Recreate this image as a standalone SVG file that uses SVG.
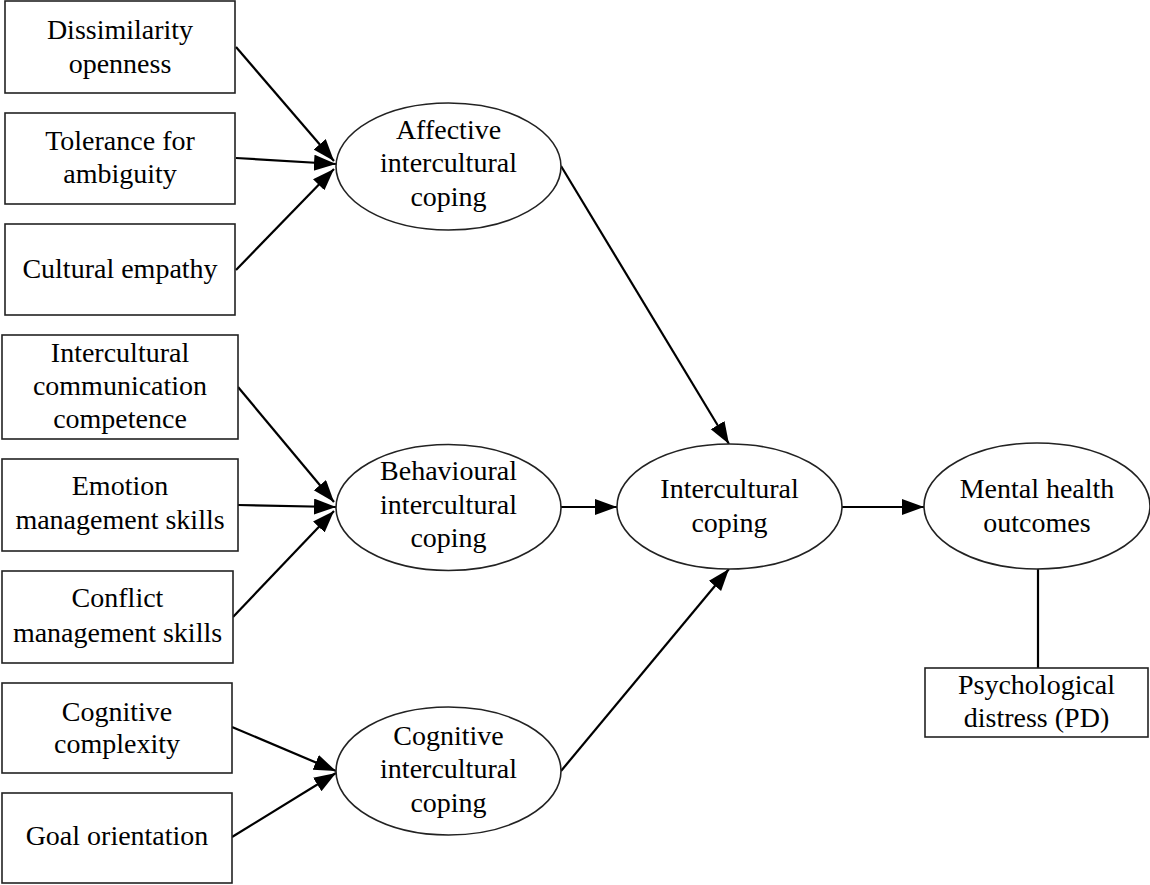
<svg xmlns="http://www.w3.org/2000/svg" width="1150" height="885" viewBox="0 0 1150 885">
  <style>
    .box { fill: #fff; stroke: #222; stroke-width: 1.6; }
    .oval { fill: #fff; stroke: #222; stroke-width: 1.6; }
    .edge { stroke: #000; stroke-width: 2.2; fill: none; }
  </style>
  <defs>
    <marker id="arrow" markerUnits="userSpaceOnUse" markerWidth="24" markerHeight="18" refX="22" refY="8" orient="auto">
      <path d="M0,0 L22,8 L0,16 z" fill="#000"/>
    </marker>
  </defs>
  <rect width="1150" height="885" fill="#fff"/>

  <!-- connectors -->
  <g id="connectors">
    <line class="edge" x1="236" y1="47" x2="334" y2="161" marker-end="url(#arrow)"/>
    <line class="edge" x1="236" y1="158" x2="336" y2="164" marker-end="url(#arrow)"/>
    <line class="edge" x1="236" y1="270" x2="334" y2="169" marker-end="url(#arrow)"/>

    <line class="edge" x1="238" y1="387" x2="334" y2="502" marker-end="url(#arrow)"/>
    <line class="edge" x1="238" y1="505" x2="336" y2="507" marker-end="url(#arrow)"/>
    <line class="edge" x1="233" y1="617" x2="334" y2="511" marker-end="url(#arrow)"/>

    <line class="edge" x1="232" y1="727" x2="336" y2="771" marker-end="url(#arrow)"/>
    <line class="edge" x1="232" y1="837" x2="336" y2="773" marker-end="url(#arrow)"/>

    <line class="edge" x1="561" y1="166" x2="729" y2="444" marker-end="url(#arrow)"/>
    <line class="edge" x1="561" y1="507" x2="617" y2="507" marker-end="url(#arrow)"/>
    <line class="edge" x1="561" y1="771" x2="729" y2="569" marker-end="url(#arrow)"/>
    <line class="edge" x1="842" y1="507" x2="924" y2="507" marker-end="url(#arrow)"/>

    <line class="edge" x1="1038" y1="569" x2="1038" y2="668"/>
  </g>

  <!-- all labels share one serif face -->
  <g font-family="'Liberation Serif', Tinos, 'Times New Roman', Times, serif" font-size="28" fill="#000" text-anchor="middle">

  <!-- affective antecedents -->
  <g id="dissimilarity-openness">
    <rect class="box" x="5" y="1" width="230" height="92"/>
    <text x="120" y="39">Dissimilarity</text>
    <text x="120" y="73">openness</text>
  </g>
  <g id="tolerance-ambiguity">
    <rect class="box" x="5" y="113" width="230" height="91"/>
    <text x="120" y="150">Tolerance for</text>
    <text x="120" y="183">ambiguity</text>
  </g>
  <g id="cultural-empathy">
    <rect class="box" x="5" y="224" width="230" height="91"/>
    <text x="120" y="278">Cultural empathy</text>
  </g>

  <!-- behavioural antecedents -->
  <g id="icc">
    <rect class="box" x="2" y="335" width="236" height="104"/>
    <text x="120" y="362">Intercultural</text>
    <text x="120" y="395">communication</text>
    <text x="120" y="428">competence</text>
  </g>
  <g id="emotion-management">
    <rect class="box" x="2" y="459" width="236" height="92"/>
    <text x="120" y="495">Emotion</text>
    <text x="120" y="529">management skills</text>
  </g>
  <g id="conflict-management">
    <rect class="box" x="2" y="571" width="231" height="92"/>
    <text x="117.5" y="607">Conflict</text>
    <text x="117.5" y="642">management skills</text>
  </g>

  <!-- cognitive antecedents -->
  <g id="cognitive-complexity">
    <rect class="box" x="2" y="683" width="230" height="90"/>
    <text x="117" y="721">Cognitive</text>
    <text x="117" y="753">complexity</text>
  </g>
  <g id="goal-orientation">
    <rect class="box" x="2" y="793" width="230" height="90"/>
    <text x="117" y="845">Goal orientation</text>
  </g>

  <!-- coping dimensions -->
  <g id="affective-coping">
    <ellipse class="oval" cx="448.5" cy="166.5" rx="112.5" ry="63.5"/>
    <text x="448.5" y="139">Affective</text>
    <text x="448.5" y="172">intercultural</text>
    <text x="448.5" y="206">coping</text>
  </g>
  <g id="behavioural-coping">
    <ellipse class="oval" cx="448.5" cy="507.5" rx="112.5" ry="63"/>
    <text x="448.5" y="480">Behavioural</text>
    <text x="448.5" y="514">intercultural</text>
    <text x="448.5" y="547">coping</text>
  </g>
  <g id="cognitive-coping">
    <ellipse class="oval" cx="448.5" cy="771" rx="112.5" ry="64"/>
    <text x="448.5" y="745">Cognitive</text>
    <text x="448.5" y="778">intercultural</text>
    <text x="448.5" y="812">coping</text>
  </g>

  <g id="intercultural-coping">
    <ellipse class="oval" cx="729.5" cy="506.5" rx="112.5" ry="62.5"/>
    <text x="729.5" y="498">Intercultural</text>
    <text x="729.5" y="532">coping</text>
  </g>

  <g id="mental-health">
    <ellipse class="oval" cx="1037" cy="506" rx="113" ry="63"/>
    <text x="1037" y="498">Mental health</text>
    <text x="1037" y="532">outcomes</text>
  </g>

  <g id="psychological-distress">
    <rect class="box" x="925" y="668" width="223" height="69"/>
    <text x="1036.5" y="694">Psychological</text>
    <text x="1036.5" y="727">distress (PD)</text>
  </g>

  </g>
</svg>
